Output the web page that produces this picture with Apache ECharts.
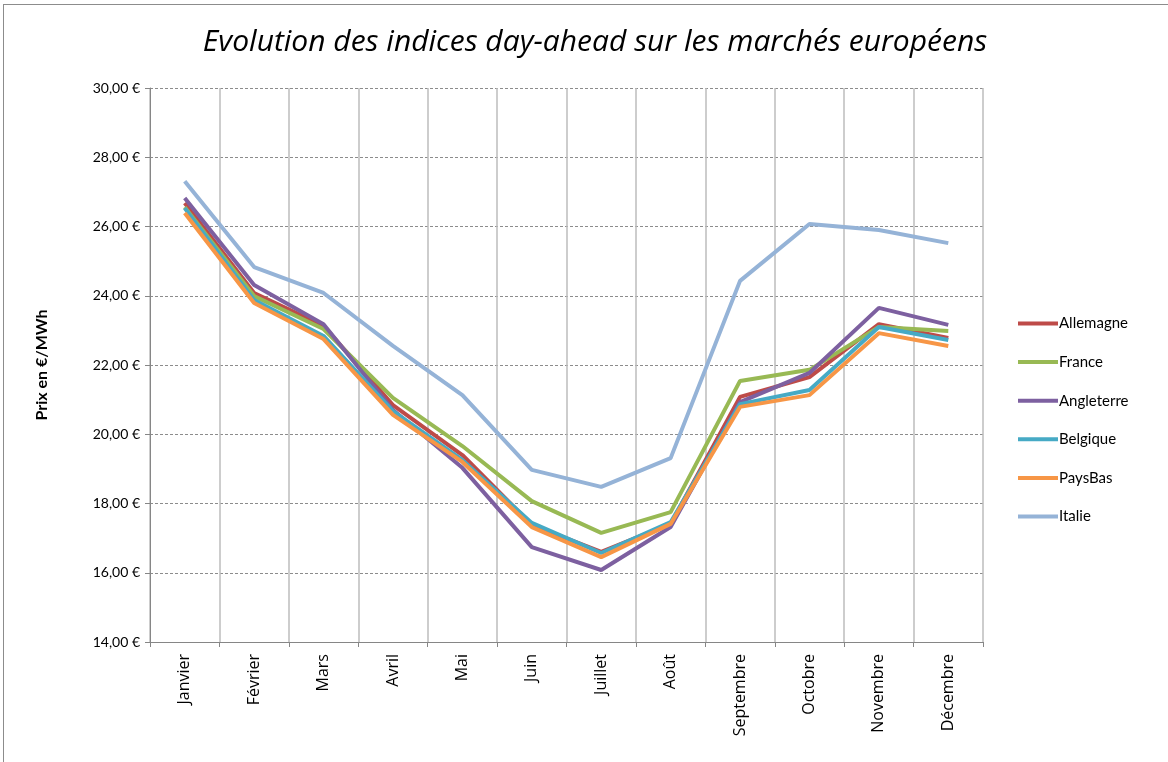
<!DOCTYPE html>
<html>
<head>
<meta charset="utf-8">
<script src="https://cdn.jsdelivr.net/npm/echarts@6/dist/echarts.min.js"></script>
<style>
  html, body { margin: 0; padding: 0; background: #fff; }
  #frame { position: absolute; left: 3px; top: 4px; width: 1170px; height: 762px; border: 1px solid #8c8c8c; box-sizing: border-box; }
  #chart { position: absolute; left: 0; top: 0; width: 1168px; height: 762px; }
</style>
</head>
<body>
<div id="frame"></div>
<div id="chart"></div>
<script>
const months = ['Janvier', 'Février', 'Mars', 'Avril', 'Mai', 'Juin', 'Juillet', 'Août', 'Septembre', 'Octobre', 'Novembre', 'Décembre']
const allemagne = [26.68, 24.08, 23.13, 20.84, 19.40, 17.38, 16.60, 17.41, 21.08, 21.65, 23.18, 22.78]
const france = [26.56, 23.99, 23.04, 21.05, 19.66, 18.07, 17.15, 17.75, 21.54, 21.86, 23.10, 22.98]
const angleterre = [26.82, 24.31, 23.18, 20.70, 19.03, 16.74, 16.08, 17.32, 20.93, 21.77, 23.65, 23.16]
const belgique = [26.53, 23.88, 22.84, 20.67, 19.26, 17.44, 16.57, 17.46, 20.87, 21.28, 23.10, 22.72]
const paysBas = [26.39, 23.79, 22.75, 20.56, 19.20, 17.32, 16.45, 17.41, 20.79, 21.13, 22.92, 22.55]
const italie = [27.31, 24.83, 24.08, 22.55, 21.13, 18.97, 18.48, 19.31, 24.43, 26.07, 25.90, 25.52]

const font = 'Lato, "Open Sans", sans-serif'
const wide = '"Open Sans", Lato, sans-serif'

function line (name, data, color) {
  return {
    name: name,
    type: 'line',
    data: data,
    symbol: 'none',
    lineStyle: { width: 4, color: color },
    itemStyle: { color: color },
    z: 3
  }
}

const chart = echarts.init(document.getElementById('chart'))
const option = {
  animation: false,
  title: {
    text: 'Evolution des indices day-ahead sur les marchés européens',
    left: 590,
    textAlign: 'center',
    top: 22,
    textStyle: { fontFamily: wide, fontStyle: 'italic', fontWeight: 'normal', fontSize: 30, color: '#000' }
  },
  legend: {
    orient: 'vertical',
    left: 1013,
    top: 311,
    itemWidth: 40,
    itemHeight: 4,
    itemGap: 23.6,
    icon: 'rect',
    textStyle: { fontFamily: font, fontSize: 15, color: '#000', padding: [0, 0, 0, -4] },
    data: ['Allemagne', 'France', 'Angleterre', 'Belgique', 'PaysBas', 'Italie']
  },
  grid: { left: 150, right: 185, top: 88, bottom: 120 },
  xAxis: {
    type: 'category',
    data: months,
    boundaryGap: true,
    axisLine: { lineStyle: { color: '#868686', width: 1 } },
    axisTick: { show: true, length: 5, lineStyle: { color: '#868686' } },
    splitLine: { show: true, lineStyle: { color: '#bdbdbd', width: 1.5 } },
    axisLabel: { rotate: 90, fontFamily: wide, fontSize: 16, color: '#000', margin: 12, interval: 0 }
  },
  yAxis: {
    type: 'value',
    min: 14,
    max: 30,
    interval: 2,
    name: 'Prix en €/MWh',
    nameLocation: 'middle',
    nameRotate: 90,
    nameGap: 100,
    nameTextStyle: { fontFamily: font, fontWeight: 'bold', fontSize: 16, color: '#000' },
    axisLine: { show: true, lineStyle: { color: '#868686', width: 1 } },
    axisTick: { show: true, length: 5, lineStyle: { color: '#868686' } },
    splitLine: { show: true, lineStyle: { color: '#8c8c8c', type: [3, 2], width: 1 } },
    axisLabel: {
      fontFamily: font, fontSize: 14, color: '#000', margin: 10,
      formatter: v => v.toFixed(2).replace('.', ',') + ' €'
    }
  },
  series: [
    line('Allemagne', allemagne, '#be4b48'),
    line('France', france, '#98b954'),
    line('Angleterre', angleterre, '#7d60a0'),
    line('Belgique', belgique, '#46aac5'),
    line('PaysBas', paysBas, '#f79646'),
    line('Italie', italie, '#95b3d7')
  ]
}
chart.setOption(option)
</script>
</body>
</html>
